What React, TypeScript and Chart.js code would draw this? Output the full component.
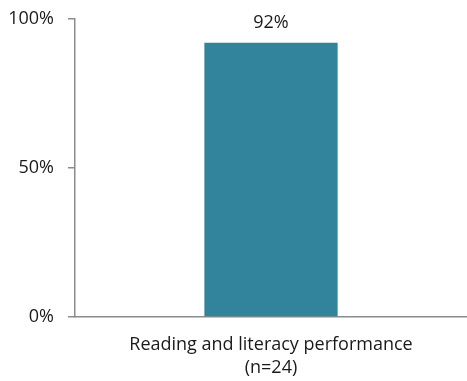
import React, { useEffect, useRef } from "react";
import { Chart, registerables } from "chart.js";

Chart.register(...registerables);

const categories: string[][] = [["Reading and literacy performance", "(n=24)"]];
const values: number[] = [0.92];
const yTicks: number[] = [0, 0.5, 1];

const FONT = "'Open Sans', 'Liberation Sans', sans-serif";
const AXIS = "#8c8c8c";
const TEXT = "#1a1a1a";

const pct = (v: number) => `${Math.round(v * 100)}%`;

const valueLabels = {
  id: "valueLabels",
  afterDatasetsDraw(chart: any) {
    const { ctx } = chart;
    const meta = chart.getDatasetMeta(0);
    ctx.save();
    ctx.font = `18px ${FONT}`;
    ctx.fillStyle = TEXT;
    ctx.textAlign = "center";
    ctx.textBaseline = "alphabetic";
    meta.data.forEach((bar: any, i: number) => {
      ctx.fillText(pct(values[i]), bar.x, bar.y - 15);
    });
    ctx.restore();
  },
};

export default function App() {
  const ref = useRef<HTMLCanvasElement>(null);

  useEffect(() => {
    if (!ref.current) return;
    const chart = new Chart(ref.current, {
      type: "bar",
      data: {
        labels: categories,
        datasets: [
          {
            data: values,
            backgroundColor: "#31849b",
            categoryPercentage: 1,
            barPercentage: 0.34,
          },
        ],
      },
      options: {
        animation: false,
        responsive: true,
        maintainAspectRatio: false,
        layout: { padding: { top: 19, right: 0, bottom: 0, left: 0 } },
        plugins: { legend: { display: false }, tooltip: { enabled: false } },
        scales: {
          x: {
            grid: { display: false },
            border: { display: true, color: AXIS, width: 1.5 },
            ticks: { color: TEXT, font: { family: FONT, size: 18, lineHeight: 1.25 }, padding: 9, maxRotation: 0 },
            afterFit: (s: any) => {
              s.height = 64;
              s.paddingLeft = 0;
              s.paddingRight = 0;
            },
          },
          y: {
            min: 0,
            max: 1,
            afterBuildTicks: (s: any) => {
              s.ticks = yTicks.map((v) => ({ value: v }));
            },
            grid: { drawOnChartArea: false, drawTicks: true, tickLength: 7, color: AXIS, lineWidth: 1.5 },
            border: { display: true, color: AXIS, width: 1.5 },
            ticks: { color: TEXT, font: { family: FONT, size: 18 }, padding: 14, callback: (v: any) => pct(Number(v)) },
            afterFit: (s: any) => {
              s.width = 75;
              s.paddingTop = 0;
              s.paddingBottom = 0;
            },
          },
        },
      },
      plugins: [valueLabels],
    });
    return () => chart.destroy();
  }, []);

  return (
    <div style={{ position: "fixed", left: 0, top: 0, width: 467, height: 381, background: "#fff" }}>
      <canvas ref={ref} />
    </div>
  );
}
